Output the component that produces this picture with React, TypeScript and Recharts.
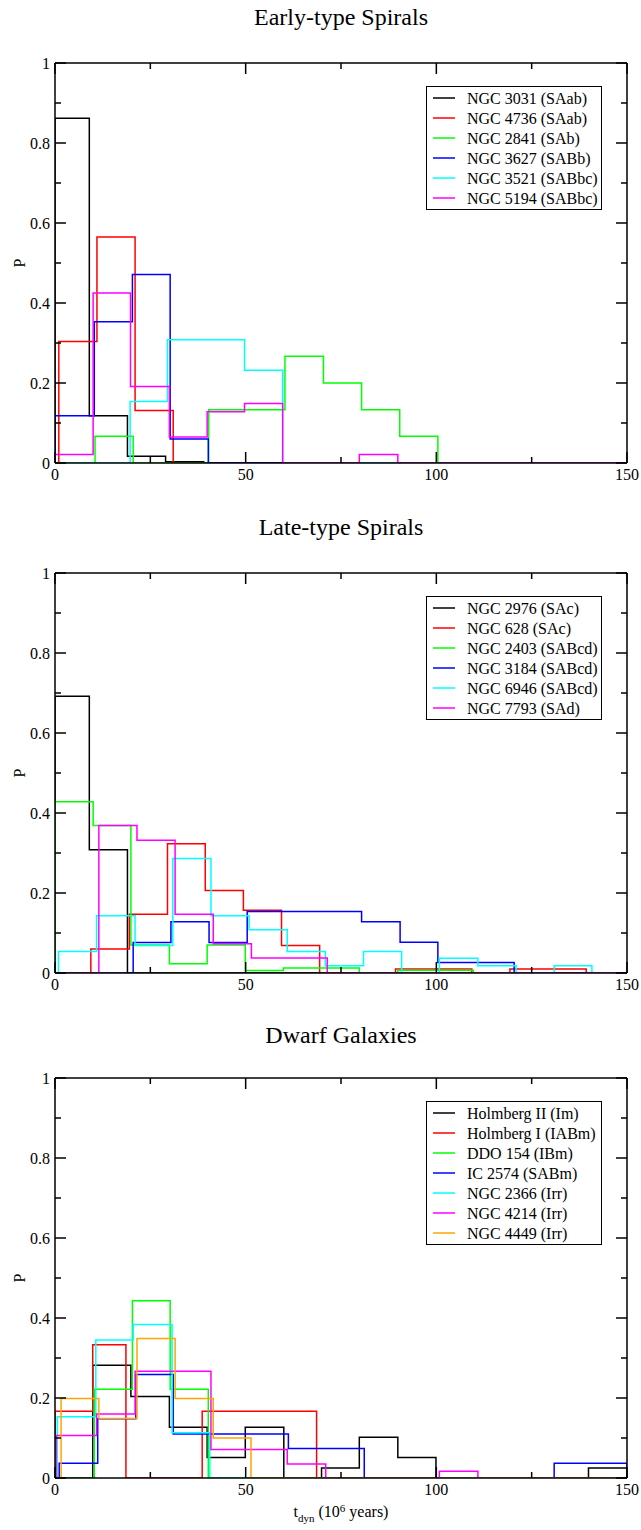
import React from 'react';
import { LineChart, Line, XAxis, YAxis } from 'recharts';

const FONT = '"Liberation Serif", "Times New Roman", Times, serif';

const xTicks = [0, 25, 50, 75, 100, 125, 150];
const yTicks = [0, 0.1, 0.2, 0.3, 0.4, 0.5, 0.6, 0.7, 0.8, 0.9, 1];

type Series = { name: string; color: string; edges: number[]; vals: number[] };

const BLACK = '#000000';
const RED = '#ff0000';
const GREEN = '#00ff00';
const BLUE = '#0000ff';
const CYAN = '#00ffff';
const MAGENTA = '#ff00ff';
const ORANGE = '#ffa500';

const earlyNames = ['NGC 3031 (SAab)', 'NGC 4736 (SAab)', 'NGC 2841 (SAb)', 'NGC 3627 (SABb)', 'NGC 3521 (SABbc)', 'NGC 5194 (SABbc)'];
const lateNames = ['NGC 2976 (SAc)', 'NGC 628 (SAc)', 'NGC 2403 (SABcd)', 'NGC 3184 (SABcd)', 'NGC 6946 (SABcd)', 'NGC 7793 (SAd)'];
const dwarfNames = ['Holmberg II (Im)', 'Holmberg I (IABm)', 'DDO 154 (IBm)', 'IC 2574 (SABm)', 'NGC 2366 (Irr)', 'NGC 4214 (Irr)', 'NGC 4449 (Irr)'];

const early: Series[] = [
  { name: earlyNames[0], color: BLACK, edges: [0, 9, 19, 29, 39], vals: [0.862, 0.118, 0.017, 0.003] },
  { name: earlyNames[1], color: RED, edges: [1, 11, 21, 31], vals: [0.304, 0.565, 0.131] },
  { name: earlyNames[2], color: GREEN, edges: [10.5, 20.5, 30.5, 40.3, 50.3, 60.3, 70.4, 80.4, 90.4, 100.4], vals: [0.067, 0, 0, 0.133, 0.133, 0.267, 0.2, 0.133, 0.067] },
  { name: earlyNames[3], color: BLUE, edges: [0, 10.3, 20.3, 30.2, 40.2], vals: [0.118, 0.353, 0.471, 0.06] },
  { name: earlyNames[4], color: CYAN, edges: [19.7, 29.5, 39.6, 49.7, 59.7], vals: [0.154, 0.308, 0.308, 0.232] },
  { name: earlyNames[5], color: MAGENTA, edges: [0, 10, 19.8, 30, 39.9, 49.7, 59.7, 69.8, 79.8, 89.9], vals: [0.021, 0.425, 0.191, 0.065, 0.128, 0.149, 0, 0, 0.021] },
];

const late: Series[] = [
  { name: lateNames[0], color: BLACK, edges: [0, 9, 19], vals: [0.692, 0.308] },
  { name: lateNames[1], color: RED, edges: [9.4, 19.5, 29.5, 39.4, 49.4, 59.4, 69.4, 79.3, 89.3, 99.3, 109.3, 119.3, 129.3, 139.3], vals: [0.06, 0.147, 0.323, 0.206, 0.157, 0.069, 0, 0, 0.01, 0.01, 0, 0.01, 0.01] },
  { name: lateNames[2], color: GREEN, edges: [0, 10, 19.9, 30, 39.9, 49.9, 59.9, 69.8, 79.8, 89.9, 99.8, 109.7], vals: [0.428, 0.369, 0.07, 0.023, 0.07, 0.006, 0.0125, 0.0125, 0, 0.007, 0.007] },
  { name: lateNames[3], color: BLUE, edges: [20.5, 30.4, 40.4, 50.4, 60.4, 70.4, 80.4, 90.5, 100.4, 110.4, 120.4], vals: [0.076, 0.128, 0.076, 0.154, 0.154, 0.154, 0.128, 0.077, 0.026, 0.026] },
  { name: lateNames[4], color: CYAN, edges: [0.9, 10.9, 21, 30.9, 40.9, 50.9, 60.9, 70.9, 80.9, 90.9, 100.8, 110.9, 120.9, 130.9, 140.8], vals: [0.054, 0.143, 0.069, 0.286, 0.143, 0.108, 0.054, 0.018, 0.054, 0, 0.037, 0.018, 0, 0.018] },
  { name: lateNames[5], color: MAGENTA, edges: [11.5, 21.5, 31.5, 41.5, 51.5, 61.5, 71.4], vals: [0.369, 0.332, 0.147, 0.073, 0.0375, 0.0375] },
];

const dwarf: Series[] = [
  { name: dwarfNames[0], color: BLACK, edges: [9.9, 19.9, 30, 39.9, 49.9, 60, 69.9, 79.8, 89.9, 99.9, 139.9, 150], vals: [0.282, 0.204, 0.127, 0.051, 0.127, 0, 0.025, 0.102, 0.051, 0, 0.025] },
  { name: dwarfNames[1], color: RED, edges: [0, 9.9, 18.6, 38.6, 48.6, 58.6, 68.6], vals: [0.167, 0.333, 0, 0.167, 0.167, 0.167] },
  { name: dwarfNames[2], color: GREEN, edges: [10.3, 20.3, 30.2, 40.2], vals: [0.222, 0.443, 0.222] },
  { name: dwarfNames[3], color: BLUE, edges: [1.1, 11.2, 21.2, 31, 41.1, 51.1, 61.2, 71.1, 81.1, 130.9, 140.9, 150], vals: [0.037, 0.148, 0.259, 0.11, 0.11, 0.11, 0.074, 0.074, 0, 0.037, 0.037] },
  { name: dwarfNames[4], color: CYAN, edges: [0.6, 10.7, 20.5, 30.7, 40.6], vals: [0.153, 0.345, 0.384, 0.113] },
  { name: dwarfNames[5], color: MAGENTA, edges: [0.3, 10.9, 21, 31, 40.9, 50.9, 60.9, 71, 100.8, 110.9], vals: [0.106, 0.16, 0.267, 0.267, 0.071, 0.071, 0.035, 0, 0.017] },
  { name: dwarfNames[6], color: ORANGE, edges: [1.6, 11.5, 21.5, 31.5, 41.5, 51.4], vals: [0.199, 0.149, 0.349, 0.199, 0.1] },
];

const titles = ['Early-type Spirals', 'Late-type Spirals', 'Dwarf Galaxies'];
const panelSeries = [early, late, dwarf];

// layout
const W = 641;
const PLOT_LEFT = 55;
const PLOT_RIGHT = 627;
const PLOT_H = 400;
const CH = 500;
const PLOT_TOP_IN_CHART = 63;
const panelTops = [63, 573, 1078];
const titleOffsets = [38, 38, 35];
const X_BOTTOM_H = 30;
const X_TOP_H = 10;
const Y_LEFT_W = 50;
const Y_RIGHT_W = 10;

function stepPoints(s: Series) {
  const pts: { x: number; y: number }[] = [{ x: 0, y: 0 }];
  s.vals.forEach((v, i) => pts.push({ x: s.edges[i], y: v }));
  pts.push({ x: s.edges[s.edges.length - 1], y: 0 });
  pts.push({ x: 150, y: 0 });
  return pts;
}

const isMajorX = (v: number) => Math.round(v) % 50 === 0;
const isMajorY = (v: number) => Math.round(v * 10) % 2 === 0;
const fmtY = (v: number) => {
  const r = Math.round(v * 10) / 10;
  return r === 0 ? '0' : r === 1 ? '1' : String(r);
};

const BottomTick = (props: any) => {
  const { x, y, payload } = props;
  const v = payload.value;
  const major = isMajorX(v);
  return (
    <g>
      <line x1={x} y1={y} x2={x} y2={y - (major ? 11 : 6)} stroke="#000" strokeWidth={1.5} />
      {major && (
        <text x={x} y={y + 17} textAnchor="middle" fontSize={16} fontFamily={FONT} fill="#000">
          {v}
        </text>
      )}
    </g>
  );
};

const TopTick = (props: any) => {
  const { x, y, payload } = props;
  const major = isMajorX(payload.value);
  return <line x1={x} y1={y} x2={x} y2={y + (major ? 11 : 6)} stroke="#000" strokeWidth={1.5} />;
};

const LeftTick = (props: any) => {
  const { x, y, payload } = props;
  const v = payload.value;
  const major = isMajorY(v);
  return (
    <g>
      <line x1={x} y1={y} x2={x + (major ? 11 : 6)} y2={y} stroke="#000" strokeWidth={1.5} />
      {major && (
        <text x={x - 5} y={y + 5.5} textAnchor="end" fontSize={16} fontFamily={FONT} fill="#000">
          {fmtY(v)}
        </text>
      )}
    </g>
  );
};

const RightTick = (props: any) => {
  const { x, y, payload } = props;
  const major = isMajorY(payload.value);
  return <line x1={x} y1={y} x2={x - (major ? 11 : 6)} y2={y} stroke="#000" strokeWidth={1.5} />;
};

const axisLine = { stroke: '#000', strokeWidth: 1.5 };

function Panel({ series, top }: { series: Series[]; top: number }) {
  const chartTop = top - PLOT_TOP_IN_CHART;
  return (
    <div style={{ position: 'absolute', left: 0, top: chartTop }}>
      <LineChart
        width={W}
        height={CH}
        margin={{
          top: PLOT_TOP_IN_CHART - X_TOP_H,
          left: PLOT_LEFT - Y_LEFT_W,
          right: W - PLOT_RIGHT - Y_RIGHT_W,
          bottom: CH - PLOT_TOP_IN_CHART - PLOT_H - X_BOTTOM_H,
        }}
      >
        <XAxis
          xAxisId="b"
          type="number"
          dataKey="x"
          domain={[0, 150]}
          ticks={xTicks}
          interval={0}
          height={X_BOTTOM_H}
          tickSize={0}
          tickMargin={0}
          tickLine={false}
          axisLine={axisLine}
          tick={<BottomTick />}
          allowDataOverflow
        />
        <XAxis
          xAxisId="t"
          orientation="top"
          type="number"
          dataKey="x"
          domain={[0, 150]}
          ticks={xTicks}
          interval={0}
          height={X_TOP_H}
          tickSize={0}
          tickMargin={0}
          tickLine={false}
          axisLine={axisLine}
          tick={<TopTick />}
          allowDataOverflow
        />
        <YAxis
          yAxisId="l"
          type="number"
          domain={[0, 1]}
          ticks={yTicks}
          interval={0}
          width={Y_LEFT_W}
          tickSize={0}
          tickMargin={0}
          tickLine={false}
          axisLine={axisLine}
          tick={<LeftTick />}
          allowDataOverflow
        />
        <YAxis
          yAxisId="r"
          orientation="right"
          type="number"
          domain={[0, 1]}
          ticks={yTicks}
          interval={0}
          width={Y_RIGHT_W}
          tickSize={0}
          tickMargin={0}
          tickLine={false}
          axisLine={axisLine}
          tick={<RightTick />}
          allowDataOverflow
        />
        {series.map((s) => (
          <Line
            key={s.name}
            xAxisId="b"
            yAxisId="l"
            data={stepPoints(s)}
            dataKey="y"
            name={s.name}
            type="stepAfter"
            stroke={s.color}
            strokeWidth={1.5}
            dot={false}
            activeDot={false}
            isAnimationActive={false}
          />
        ))}
      </LineChart>
    </div>
  );
}

function Overlay() {
  const cx = (PLOT_LEFT + PLOT_RIGHT) / 2;
  return (
    <svg
      width={W}
      height={1530}
      style={{ position: 'absolute', left: 0, top: 0, pointerEvents: 'none' }}
      fontFamily={FONT}
    >
      {panelSeries.map((series, p) => {
        const top = panelTops[p];
        const boxTop = top + 23;
        const boxH = series.length * 20 + 3;
        return (
          <g key={p}>
            <text x={cx} y={top - titleOffsets[p]} textAnchor="middle" fontSize={24} fill="#000">
              {titles[p]}
            </text>
            <text
              transform={`translate(25, ${top + PLOT_H / 2}) rotate(-90)`}
              textAnchor="middle"
              fontSize={16}
              fill="#000"
            >
              P
            </text>
            <rect x={426.5} y={boxTop + 0.5} width={175} height={boxH} fill="#fff" stroke="#000" strokeWidth={1} />
            {series.map((s, i) => {
              const cy = boxTop + 12 + i * 20;
              return (
                <g key={s.name}>
                  <line x1={433} y1={cy} x2={455} y2={cy} stroke={s.color} strokeWidth={1.5} />
                  <text x={467} y={cy + 5.5} fontSize={16} fill="#000">
                    {s.name}
                  </text>
                </g>
              );
            })}
          </g>
        );
      })}
      <text x={cx} y={1517} textAnchor="middle" fontSize={16} fill="#000">
        <tspan>t</tspan>
        <tspan fontSize={11} dy={5}>dyn</tspan>
        <tspan dy={-5}> (10</tspan>
        <tspan fontSize={11} dy={-5}>6</tspan>
        <tspan dy={5}> years)</tspan>
      </text>
    </svg>
  );
}

export default function App() {
  return (
    <div style={{ position: 'absolute', left: 0, top: 0, width: W, height: 1530, background: '#fff' }}>
      {panelSeries.map((s, i) => (
        <Panel key={i} series={s} top={panelTops[i]} />
      ))}
      <Overlay />
    </div>
  );
}
